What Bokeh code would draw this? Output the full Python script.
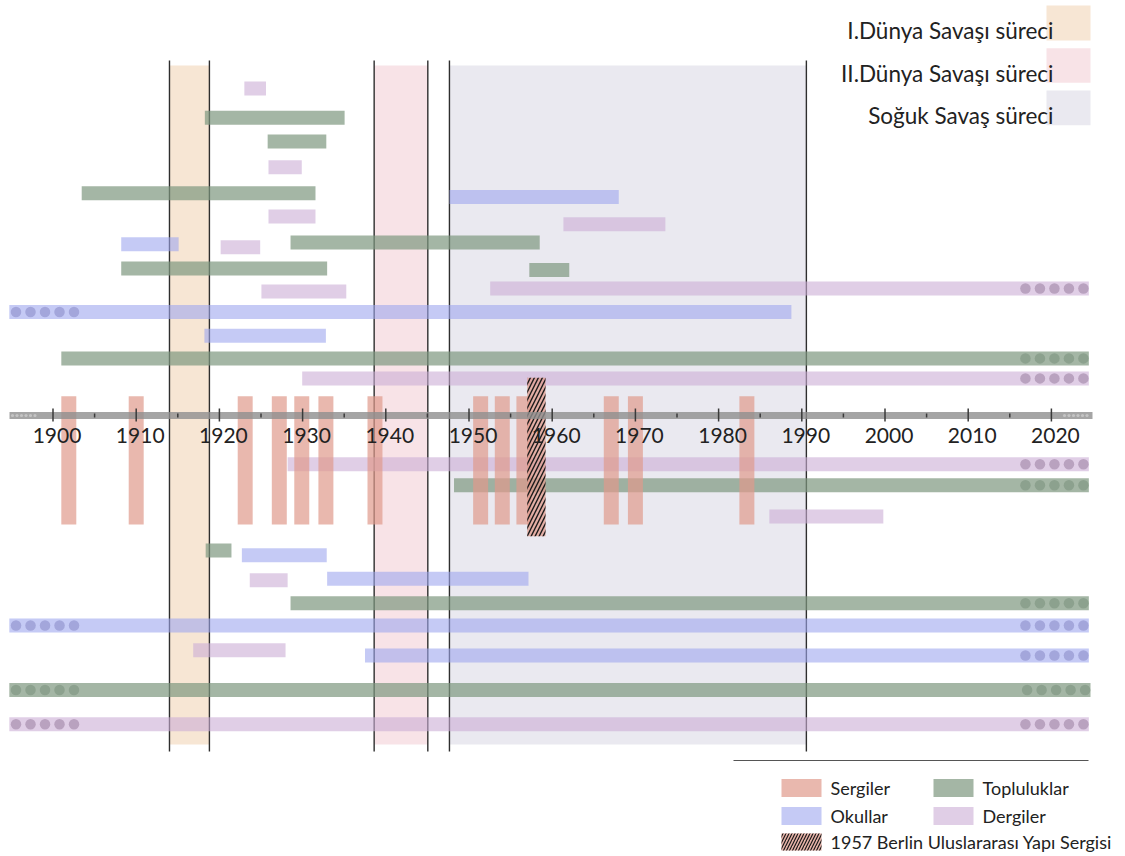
from bokeh.plotting import figure
from bokeh.models import Range1d
from bokeh.core.properties import value
from bokeh.embed import file_html
from bokeh.resources import INLINE

FONT = "Lato"

# ---------------- data ----------------
period_labels = ["I.Dünya Savaşı süreci", "II.Dünya Savaşı süreci", "Soğuk Savaş süreci"]
period_start = [1914.0, 1938.6, 1947.65]
period_end = [1918.8, 1945.05, 1990.55]
period_colors = ["#F7E6D4", "#F8E3E7", "#EAE9F0"]

# Sergiler (exhibitions), centre years
exh_years = [1901.9, 1910.0, 1923.1, 1927.2, 1929.9, 1932.8, 1938.7,
             1951.4, 1954.0, 1956.6, 1967.1, 1970.0, 1983.4]
berlin_year = 1958.1

# Dergiler (magazines)
derg_start = [1923.0, 1925.9, 1925.9, 1961.35, 1920.15, 1925.05, 1952.55, 1929.95,
              1928.2, 1986.1, 1923.65, 1916.85, 1894.75]
derg_end = [1925.6, 1929.9, 1931.55, 1973.6, 1924.9, 1935.25, 2024.5, 2024.5,
            2024.5, 1999.8, 1928.2, 1927.95, 2024.5]
derg_lane = [327, 248.2, 199, 191.3, 168.3, 124, 127, 37.1,
             -48.7, -101, -164.8, -234.7, -308.7]
derg_dots = ["", "", "", "", "", "", "R", "R", "R", "", "", "", "LR"]

# Topluluklar (groups)
topl_start = [1918.25, 1925.8, 1903.45, 1928.55, 1908.2, 1957.25, 1901.0,
              1948.2, 1918.35, 1928.55, 1894.75]
topl_end = [1935.05, 1932.85, 1931.55, 1958.5, 1932.95, 1962.05, 2024.5,
            2024.5, 1921.45, 2024.5, 2024.7]
topl_lane = [297.8, 274, 222.2, 173, 147, 145.5, 57.1,
             -69.7, -135, -187.8, -274.5]
topl_dots = ["", "", "", "", "", "", "R", "R", "", "R", "LR"]

# Okullar (schools)
okul_start = [1947.65, 1908.2, 1894.75, 1918.2, 1922.7, 1932.95, 1894.75, 1937.5]
okul_end = [1968.0, 1915.1, 1988.75, 1932.8, 1932.9, 1957.15, 2024.5, 2024.5]
okul_lane = [218.5, 171.3, 103.5, 79.7, -139.7, -163.3, -210, -240]
okul_dots = ["", "", "L", "", "", "", "LR", "R"]

tick_years = list(range(1900, 2030, 10))
minor_years = list(range(1905, 2020, 10))

cat_labels = ["Sergiler", "Topluluklar", "Okullar", "Dergiler"]
berlin_label = "1957 Berlin Uluslararası Yapı Sergisi"

# ---------------- styles ----------------
C_EXH = "#E09A8C"
C_TOP = "#7D977F"
C_OKU = "#9FA7EE"
C_DER = "#CCAED6"
DOT_TOP = "#8CA18E"
DOT_OKU = "#A3A6DB"
DOT_DER = "#B9A2BF"

W, H = 1122, 852
PXY = 8.32
X0 = 1900 - 52.5 / PXY
X1 = X0 + W / PXY
Y_TOP = 415
Y_BOT = Y_TOP - H


def sx(px):
    return X0 + px / PXY


def sy(py):
    return 415 - py


p = figure(width=W, height=H, x_range=Range1d(X0, X1), y_range=Range1d(Y_BOT, Y_TOP),
           output_backend="svg", toolbar_location=None, min_border=0)
p.axis.visible = False
p.grid.visible = False
p.outline_line_color = None
p.background_fill_color = "white"

# period bands
p.quad(left=period_start, right=period_end, top=350, bottom=-329,
       fill_color=period_colors, line_color=None)
line_x = period_start + period_end
p.segment(x0=line_x, x1=line_x, y0=[355] * 6, y1=[-336] * 6,
          line_color="#2e2e2e", line_width=1.4)

BAR_H = 14
DOT_STEP = 14.5 / PXY


def draw_bars(starts, ends, lanes, dots, color, alpha, dot_color):
    p.hbar(y=lanes, left=starts, right=ends, height=BAR_H,
           fill_color=color, fill_alpha=alpha, line_color=None)
    dx, dy = [], []
    for s, e, ln, d in zip(starts, ends, lanes, dots):
        if "L" in d:
            for k in range(5):
                dx.append(s + (6.7 / PXY) + k * DOT_STEP)
                dy.append(ln)
        if "R" in d:
            for k in range(5):
                dx.append(e - (5.4 / PXY) - k * DOT_STEP)
                dy.append(ln)
    if dx:
        p.scatter(x=dx, y=dy, size=10.5, marker="circle",
                  fill_color=dot_color, line_color=None)


draw_bars(topl_start, topl_end, topl_lane, topl_dots, C_TOP, 0.7, DOT_TOP)
draw_bars(okul_start, okul_end, okul_lane, okul_dots, C_OKU, 0.6, DOT_OKU)
draw_bars(derg_start, derg_end, derg_lane, derg_dots, C_DER, 0.6, DOT_DER)

# exhibitions
p.vbar(x=exh_years, width=1.8, top=19.3, bottom=-109,
       fill_color=C_EXH, fill_alpha=0.7, line_color=None)
p.vbar(x=[berlin_year], width=2.2, top=37.7, bottom=-120.7,
       fill_color=C_EXH, fill_alpha=0.75, line_color=None,
       hatch_pattern="/", hatch_color="#1a1a1a", hatch_scale=8, hatch_weight=1.4)

# timeline axis
p.segment(x0=[sx(9)], x1=[sx(1092)], y0=[0], y1=[0], line_color="#8f8f8f",
          line_alpha=0.8, line_width=7)
p.scatter(x=[sx(12 + 4.5 * k) for k in range(6)] + [sx(1064 + 4.5 * k) for k in range(6)],
          y=[0] * 12, size=3.2, marker="circle", fill_color="#c4c4c4", line_color=None)
p.segment(x0=tick_years, x1=tick_years, y0=[7] * len(tick_years), y1=[-6] * len(tick_years),
          line_color="#3a3a3a", line_width=1.5)
p.segment(x0=minor_years, x1=minor_years, y0=[2] * len(minor_years), y1=[-2] * len(minor_years),
          line_color="#3a3a3a", line_width=1.5)
p.text(x=tick_years, y=[-12] * len(tick_years), text=[str(t) for t in tick_years],
       x_offset=4, text_align="center", text_baseline="top",
       text_font=value(FONT), text_font_size="21px", text_color="#222222")

# period legend (top right)
sw_top = [5, 47.7, 90]
sw_bot = [40, 82.3, 124.7]
p.quad(left=[sx(1046)] * 3, right=[sx(1090)] * 3, top=[sy(t) for t in sw_top],
       bottom=[sy(b) for b in sw_bot], fill_color=period_colors, line_color=None)
p.text(x=[sx(1053)] * 3, y=[sy(30), sy(73), sy(115)], text=period_labels,
       text_align="right", text_baseline="middle", text_font=value(FONT),
       text_font_size="22.5px", text_color="#222222")

# category legend (bottom right)
p.segment(x0=[sx(733)], x1=[sx(1088)], y0=[sy(760)], y1=[sy(760)],
          line_color="#555555", line_width=1.2)
leg_l = [781, 933, 781, 933]
leg_t = [778.5, 778.5, 806.5, 806.5]
leg_col = [C_EXH, C_TOP, C_OKU, C_DER]
leg_alpha = [0.7, 0.7, 0.6, 0.6]
p.quad(left=[sx(v) for v in leg_l], right=[sx(v + 40) for v in leg_l],
       top=[sy(v) for v in leg_t], bottom=[sy(v + 18) for v in leg_t],
       fill_color=leg_col, fill_alpha=leg_alpha, line_color=None)
p.quad(left=[sx(781)], right=[sx(821)], top=[sy(833)], bottom=[sy(850)],
       fill_color=C_EXH, fill_alpha=0.75, line_color=None,
       hatch_pattern="/", hatch_color="#1a1a1a", hatch_scale=6, hatch_weight=1.2)
p.text(x=[sx(v + 49) for v in leg_l], y=[sy(v + 9) for v in leg_t], text=cat_labels,
       text_align="left", text_baseline="middle", text_font=value(FONT),
       text_font_size="18px", text_color="#222222")
p.text(x=[sx(830)], y=[sy(841.5)], text=[berlin_label],
       text_align="left", text_baseline="middle", text_font=value(FONT),
       text_font_size="18px", text_color="#222222")

open("out.html", "w").write(file_html(p, INLINE))
